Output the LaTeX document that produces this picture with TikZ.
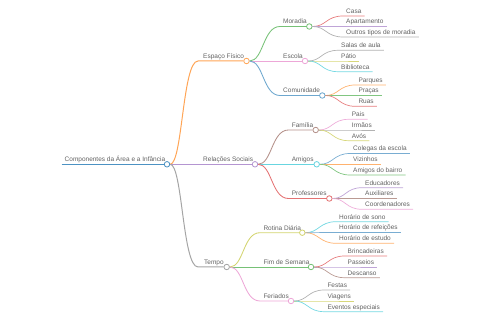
\documentclass[tikz,border=0pt]{standalone}
\usepackage{fontspec}
\setmainfont{Liberation Sans}
\usetikzlibrary{calc}
\definecolor{mblue}{HTML}{1F77B4}
\definecolor{morange}{HTML}{FF7F0E}
\definecolor{mgreen}{HTML}{2CA02C}
\definecolor{mred}{HTML}{D62728}
\definecolor{mpurple}{HTML}{9467BD}
\definecolor{mbrown}{HTML}{8C564B}
\definecolor{mpink}{HTML}{E377C2}
\definecolor{mgray}{HTML}{7F7F7F}
\definecolor{molive}{HTML}{BCBD22}
\definecolor{mcyan}{HTML}{17BECF}
\definecolor{txtgray}{HTML}{626262}

\begin{document}
\begin{tikzpicture}[
  x=1pt, y=-1pt,
  font=\fontsize{6.5}{7}\selectfont,
  dot/.style={circle, draw, fill=white, inner sep=0pt, minimum size=5.5pt, line width=0.8pt},
  lbl/.style={anchor=base west, inner sep=0pt, text=txtgray},
  lv0/.style={line width=1.4pt},
  lv1/.style={line width=1.0pt},
  lv2/.style={line width=0.85pt},
  lv3/.style={line width=0.7pt}
]
\useasboundingbox (0,0) rectangle (480,320);

% ---- Level 0: root ----
\node[dot, draw=mblue!80] (root) at (167,164.3) {};
\node[lbl] (rootl) at (64.5,161.8) {Componentes da Área e a Infância};
\coordinate (rootst) at (61.5,164.3);
\draw[lv0, mblue!80] (rootst) -- (root);

% ---- Level 1 ----
\node[dot, draw=morange!70] (fis) at (246.5,61) {};
\node[dot, draw=mpurple!70] (soc) at (255,164.3) {};
\node[dot, draw=mgray!70] (tem) at (226.7,267) {};
\node[lbl] at (203,58.5) {Espaço Físico};
\node[lbl] at (203,161.8) {Relações Sociais};
\node[lbl] at (204,264.5) {Tempo};

\draw[lv1, morange!70] (root) .. controls +(15.5,0) and +(-15.5,0) .. (198,61) -- (fis);
\draw[lv1, mpurple!70] (root) -- (soc);
\draw[lv1, mgray!70] (root) .. controls +(15.5,0) and +(-15.5,0) .. (198,267) -- (tem);

% ---- Level 2 ----
\node[dot, draw=mgreen!65] (mor) at (309.3,26.5) {};
\node[dot, draw=mpink!65] (esc) at (305,61) {};
\node[dot, draw=mblue!65] (com) at (322.3,95.5) {};
\node[dot, draw=mbrown!65] (fam) at (315.7,130) {};
\node[dot, draw=mcyan!65] (ami) at (316.7,164.3) {};
\node[dot, draw=mred!65] (pro) at (329.3,198.5) {};
\node[dot, draw=molive!65] (rot) at (302.3,232.7) {};
\node[dot, draw=mgreen!65] (fim) at (311,267) {};
\node[dot, draw=mpink!65] (fer) at (291,301) {};

\node[lbl] at (283,24) {Moradia};
\node[lbl] at (283,58.5) {Escola};
\node[lbl] at (283,93) {Comunidade};
\node[lbl] at (291.7,127.5) {Família};
\node[lbl] at (291.7,161.8) {Amigos};
\node[lbl] at (291.7,196) {Professores};
\node[lbl] at (263.3,230.2) {Rotina Diária};
\node[lbl] at (263.3,264.5) {Fim de Semana};
\node[lbl] at (263.3,298.5) {Feriados};

\draw[lv2, mgreen!65] (fis) .. controls +(17,0) and +(-17,0) .. (280,26.5) -- (mor);
\draw[lv2, mpink!65] (fis) -- (esc);
\draw[lv2, mblue!65] (fis) .. controls +(17,0) and +(-17,0) .. (280,95.5) -- (com);
\draw[lv2, mbrown!65] (soc) .. controls +(17,0) and +(-17,0) .. (288.5,130) -- (fam);
\draw[lv2, mcyan!65] (soc) -- (ami);
\draw[lv2, mred!65] (soc) .. controls +(17,0) and +(-17,0) .. (288.5,198.5) -- (pro);
\draw[lv2, molive!65] (tem) .. controls +(17,0) and +(-17,0) .. (260,232.7) -- (rot);
\draw[lv2, mgreen!65] (tem) -- (fim);
\draw[lv2, mpink!65] (tem) .. controls +(17,0) and +(-17,0) .. (260,301) -- (fer);

% ---- Level 3: leaves ----
\foreach \nm/\yy/\cl/\tx in {casa/16/mred/Casa, apto/26.5/mpurple/Apartamento, outros/37/mgray/Outros tipos de moradia}
{
  \node[lbl] (\nm) at (346,\yy-2.5) {\tx};
  \draw[lv3, \cl!60] (mor) .. controls +(17,0) and +(-17,0) .. (343,\yy) -- ($(\nm.base east)+(3,2.5)$);
}
\foreach \nm/\yy/\cl/\tx in {salas/50.3/mgray/Salas de aula, patio/61/molive/Pátio, bibl/71.7/mcyan/Biblioteca}
{
  \node[lbl] (\nm) at (341,\yy-2.5) {\tx};
  \draw[lv3, \cl!60] (esc) .. controls +(16.5,0) and +(-16.5,0) .. (338,\yy) -- ($(\nm.base east)+(3,2.5)$);
}
\foreach \nm/\yy/\cl/\tx in {parq/85/morange/Parques, pracas/95.5/mgreen/Praças, ruas/106.3/mred/Ruas}
{
  \node[lbl] (\nm) at (358.3,\yy-2.5) {\tx};
  \draw[lv3, \cl!60] (com) .. controls +(16.5,0) and +(-16.5,0) .. (355.3,\yy) -- ($(\nm.base east)+(3,2.5)$);
}
\foreach \nm/\yy/\cl/\tx in {pais/119.3/mpink/Pais, irmaos/130/mgray/Irmãos, avos/140.7/molive/Avós}
{
  \node[lbl] (\nm) at (351.7,\yy-2.5) {\tx};
  \draw[lv3, \cl!60] (fam) .. controls +(16.5,0) and +(-16.5,0) .. (348.7,\yy) -- ($(\nm.base east)+(3,2.5)$);
}
\foreach \nm/\yy/\cl/\tx in {coleg/153.5/mblue/Colegas da escola, vizin/164.3/morange/Vizinhos, bairro/175/mgreen/Amigos do bairro}
{
  \node[lbl] (\nm) at (353,\yy-2.5) {\tx};
  \draw[lv3, \cl!60] (ami) .. controls +(16.5,0) and +(-16.5,0) .. (350,\yy) -- ($(\nm.base east)+(3,2.5)$);
}
\foreach \nm/\yy/\cl/\tx in {educ/187.7/mpurple/Educadores, aux/198.5/mbrown/Auxiliares, coord/209.3/mpink/Coordenadores}
{
  \node[lbl] (\nm) at (365,\yy-2.5) {\tx};
  \draw[lv3, \cl!60] (pro) .. controls +(16.5,0) and +(-16.5,0) .. (362,\yy) -- ($(\nm.base east)+(3,2.5)$);
}
\foreach \nm/\yy/\cl/\tx in {sono/221.7/mcyan/Horário de sono, refei/232.5/mblue/Horário de refeições, estudo/243.3/morange/Horário de estudo}
{
  \node[lbl] (\nm) at (339,\yy-2.5) {\tx};
  \draw[lv3, \cl!60] (rot) .. controls +(16.5,0) and +(-16.5,0) .. (336,\yy) -- ($(\nm.base east)+(3,2.5)$);
}
\foreach \nm/\yy/\cl/\tx in {brinc/256/mred/Brincadeiras, passe/267/mpurple/Passeios, desc/277.7/mbrown/Descanso}
{
  \node[lbl] (\nm) at (347.5,\yy-2.5) {\tx};
  \draw[lv3, \cl!60] (fim) .. controls +(16.5,0) and +(-16.5,0) .. (344.5,\yy) -- ($(\nm.base east)+(3,2.5)$);
}
\foreach \nm/\yy/\cl/\tx in {festas/290/mgray/Festas, viag/301/molive/Viagens, event/311.7/mcyan/Eventos especiais}
{
  \node[lbl] (\nm) at (327.3,\yy-2.5) {\tx};
  \draw[lv3, \cl!60] (fer) .. controls +(16.5,0) and +(-16.5,0) .. (324.3,\yy) -- ($(\nm.base east)+(3,2.5)$);
}

\end{tikzpicture}
\end{document}
